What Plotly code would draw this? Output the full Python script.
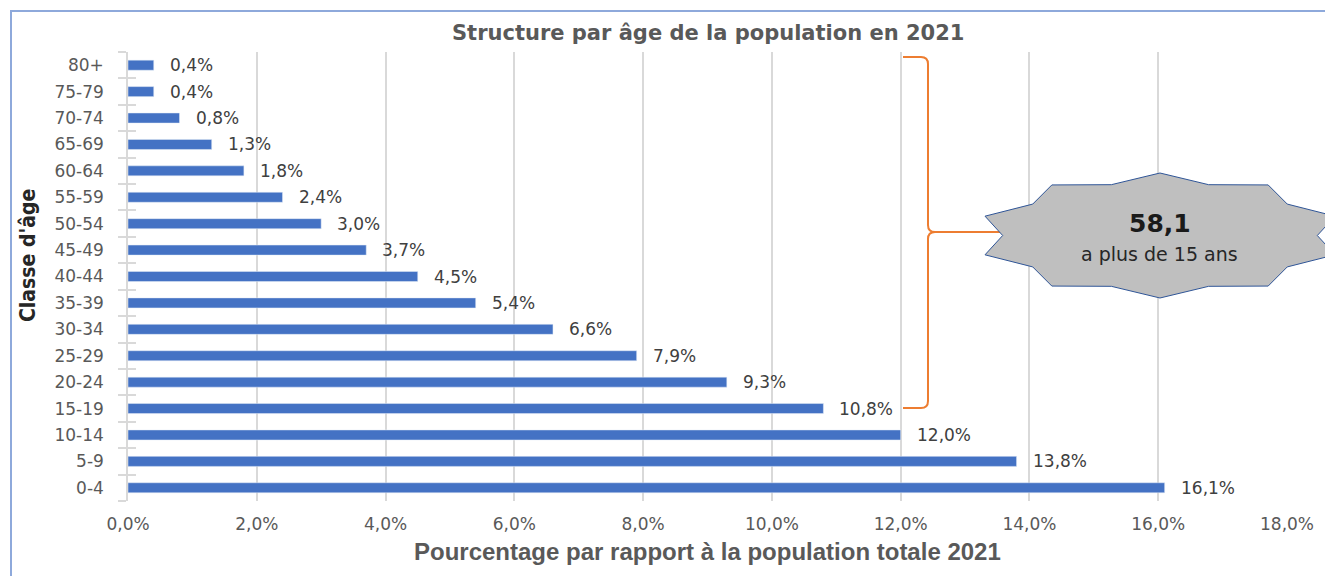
import math
import plotly.graph_objects as go

# ---- data ----
age_classes = ["0-4", "5-9", "10-14", "15-19", "20-24", "25-29", "30-34", "35-39",
               "40-44", "45-49", "50-54", "55-59", "60-64", "65-69", "70-74", "75-79", "80+"]
pct_values = [16.1, 13.8, 12.0, 10.8, 9.3, 7.9, 6.6, 5.4,
              4.5, 3.7, 3.0, 2.4, 1.8, 1.3, 0.8, 0.4, 0.4]
x_ticks = [0, 2, 4, 6, 8, 10, 12, 14, 16, 18]
x_tick_labels = ["0,0%", "2,0%", "4,0%", "6,0%", "8,0%", "10,0%", "12,0%", "14,0%", "16,0%", "18,0%"]
title_text = "Structure par âge de la population en 2021"
x_title = "Pourcentage par rapport à la population totale 2021"
y_title = "Classe d'âge"
callout_value = "58,1"
callout_text = "a plus de 15 ans"

OFF = 8  # page body margin
W, H = 1333 - OFF, 576 - OFF
ML, MT = 128 - OFF, 52 - OFF
MR = W - (1287 - OFF)
MB = H - (501 - OFF)
PW, PH = W - ML - MR, H - MT - MB


def px(x):  # page pixel -> paper
    return (x - OFF - ML) / PW


def py(y):
    return (H - MB - (y - OFF)) / PH


def fmt(v):
    return f"{v:.1f}".replace(".", ",") + "%"


fig = go.Figure()
fig.add_trace(go.Bar(
    x=pct_values, y=age_classes, orientation="h",
    marker=dict(color="#4472C4", line=dict(width=0)),
    hoverinfo="skip", showlegend=False,
))
# invisible twin for the inner half of the crossing ticks
fig.add_trace(go.Bar(
    x=pct_values, y=age_classes, orientation="h", yaxis="y2",
    marker=dict(color="rgba(0,0,0,0)"), hoverinfo="skip", showlegend=False,
))

annotations = []
for v, c in zip(pct_values, age_classes):
    annotations.append(dict(
        x=v, y=c, xref="x", yref="y", text=fmt(v), showarrow=False,
        xanchor="left", yanchor="middle", xshift=14,
        font=dict(family="DejaVu Sans", size=17, color="#404040"),
    ))

annotations += [
    dict(x=0.5, y=py(33), xref="paper", yref="paper", text=f"<b>{title_text}</b>",
         showarrow=False, xanchor="center", yanchor="middle",
         font=dict(family="DejaVu Sans", size=21, color="#595959")),
    dict(x=0.5, y=py(551), xref="paper", yref="paper", text=f"<b>{x_title}</b>",
         showarrow=False, xanchor="center", yanchor="middle",
         font=dict(family="Liberation Sans", size=24, color="#595959")),
    dict(x=px(28), y=py(256), xref="paper", yref="paper", text=f"<b>{y_title}</b>",
         showarrow=False, xanchor="center", yanchor="middle", textangle=-90,
         font=dict(family="Liberation Sans Narrow, DejaVu Sans Condensed", size=21, color="#262626")),
    dict(x=px(1160), y=py(224), xref="paper", yref="paper", text=f"<b>{callout_value}</b>",
         showarrow=False, xanchor="center", yanchor="middle",
         font=dict(family="DejaVu Sans", size=25, color="#1a1a1a")),
    dict(x=px(1159), y=py(254), xref="paper", yref="paper", text=callout_text,
         showarrow=False, xanchor="center", yanchor="middle",
         font=dict(family="DejaVu Sans", size=19, color="#262626")),
]

# star (10 points)
cx, cy, rx, ry, ratio = 1160, 235.5, 184, 62.5, 0.855
pts = []
for k in range(20):
    ang = math.radians(90 - 18 * k)
    r = 1.0 if k % 2 == 0 else ratio
    pts.append((cx + rx * r * math.cos(ang), cy - ry * r * math.sin(ang)))
star_path = "M " + " L ".join(f"{px(x):.5f},{py(y):.5f}" for x, y in pts) + " Z"


def P(x, y):
    return f"{px(x):.5f},{py(y):.5f}"


brace_path = (
    f"M {P(903, 57)} L {P(921, 57)} Q {P(928, 57)} {P(928, 64)} "
    f"L {P(928, 225)} Q {P(928, 232)} {P(935, 232)} L {P(1004, 232)} "
    f"M {P(935, 232)} Q {P(928, 232)} {P(928, 239)} "
    f"L {P(928, 401)} Q {P(928, 408)} {P(921, 408)} L {P(903, 408)}"
)

shapes = [
    dict(type="path", xref="paper", yref="paper", path=brace_path,
         line=dict(color="#ED7D31", width=2), layer="above"),
    dict(type="path", xref="paper", yref="paper", path=star_path,
         fillcolor="#BFBFBF", line=dict(color="#2F5597", width=1), layer="above"),
    dict(type="rect", xref="paper", yref="paper", x0=px(11), x1=px(1345), y0=py(590), y1=py(11),
         line=dict(color="#8EA9DB", width=2), fillcolor="rgba(0,0,0,0)", layer="above"),
]

fig.update_layout(
    width=W, height=H, autosize=False,
    margin=dict(l=ML, r=MR, t=MT, b=MB, pad=0),
    paper_bgcolor="white", plot_bgcolor="white",
    bargap=0.62, showlegend=False,
    xaxis=dict(range=[0, 18], tickvals=x_ticks, ticktext=x_tick_labels,
               showgrid=True, gridcolor="#D9D9D9", gridwidth=1.5, zeroline=False,
               showline=False, ticks="outside", ticklen=8, tickcolor="rgba(0,0,0,0)",
               tickfont=dict(family="DejaVu Sans", size=17, color="#595959"),
               fixedrange=True, automargin=False),
    yaxis=dict(type="category", categoryorder="array", categoryarray=age_classes,
               range=[-0.5, len(age_classes) - 0.5],
               showline=True, linecolor="#D9D9D9", linewidth=1.5,
               ticks="outside", tickson="boundaries", ticklen=8, tickcolor="#D9D9D9", tickwidth=1.5,
               ticklabelstandoff=19,
               tickfont=dict(family="DejaVu Sans", size=17, color="#595959"),
               showgrid=False, zeroline=False, automargin=False),
    yaxis2=dict(type="category", categoryorder="array", categoryarray=age_classes,
                range=[-0.5, len(age_classes) - 0.5], overlaying="y", side="left", anchor="x",
                showline=False, ticks="inside", tickson="boundaries", ticklen=8,
                tickcolor="#D9D9D9", tickwidth=1.5, showticklabels=False,
                showgrid=False, zeroline=False),
    annotations=annotations, shapes=shapes,
)

fig.write_html("out.html")
